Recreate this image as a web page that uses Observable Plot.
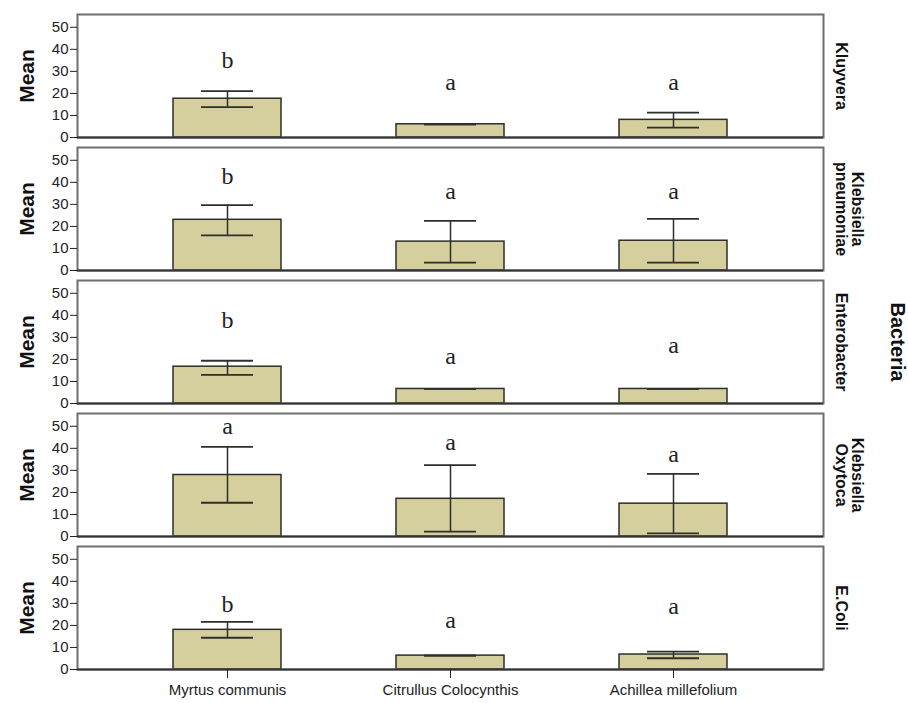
<!DOCTYPE html>
<html>
<head>
<meta charset="utf-8">
<script src="https://cdn.jsdelivr.net/npm/d3@7"></script>
<script src="https://cdn.jsdelivr.net/npm/@observablehq/plot@0.6"></script>
<style>
  html, body { margin: 0; padding: 0; background: #fff; }
  #chart svg { display: block; }
</style>
</head>
<body>
<div id="chart"></div>
<script>
// ---- data ----
const bacteria = ["Kluyvera", "Klebsiella pneumoniae", "Enterobacter", "Klebsiella Oxytoca", "E.Coli"];
const bacteriaLabels = ["Kluyvera", "Klebsiella\npneumoniae", "Enterobacter", "Klebsiella\nOxytoca", "E.Coli"];
const plants = ["Myrtus communis", "Citrullus Colocynthis", "Achillea millefolium"];
const yTicks = [0, 10, 20, 30, 40, 50];

// means per bacteria (order of plants)
const meanKluyvera = [17.6, 6.0, 8.0];
const meanPneumoniae = [23.0, 13.1, 13.5];
const meanEnterobacter = [16.7, 6.6, 6.6];
const meanOxytoca = [27.9, 17.1, 14.9];
const meanEColi = [18.0, 6.3, 6.8];

// error bar lows / highs
const lowKluyvera = [13.8, 6.0, 4.5];
const highKluyvera = [21.0, 6.0, 11.3];
const lowPneumoniae = [15.9, 3.6, 3.6];
const highPneumoniae = [29.7, 22.5, 23.4];
const lowEnterobacter = [13.0, 6.6, 6.6];
const highEnterobacter = [19.4, 6.6, 6.6];
const lowOxytoca = [15.3, 2.2, 1.4];
const highOxytoca = [40.7, 32.4, 28.4];
const lowEColi = [14.4, 6.3, 5.1];
const highEColi = [21.6, 6.3, 8.1];

// significance letters and their vertical positions
const letterKluyvera = ["b", "a", "a"];
const letterPneumoniae = ["b", "a", "a"];
const letterEnterobacter = ["b", "a", "a"];
const letterOxytoca = ["a", "a", "a"];
const letterEColi = ["b", "a", "a"];
const letterYKluyvera = [35, 25, 25];
const letterYPneumoniae = [42.8, 36, 36];
const letterYEnterobacter = [37.8, 21.2, 26.6];
const letterYOxytoca = [50, 42.8, 37.4];
const letterYEColi = [29.7, 22.5, 28.8];

// ---- build table ----
const means = [meanKluyvera, meanPneumoniae, meanEnterobacter, meanOxytoca, meanEColi];
const lows = [lowKluyvera, lowPneumoniae, lowEnterobacter, lowOxytoca, lowEColi];
const highs = [highKluyvera, highPneumoniae, highEnterobacter, highOxytoca, highEColi];
const letters = [letterKluyvera, letterPneumoniae, letterEnterobacter, letterOxytoca, letterEColi];
const letterYs = [letterYKluyvera, letterYPneumoniae, letterYEnterobacter, letterYOxytoca, letterYEColi];

const rows = [];
bacteria.forEach((b, i) => {
  plants.forEach((p, j) => {
    rows.push({
      bacteria: b, plant: p,
      mean: means[i][j], low: lows[i][j], high: highs[i][j],
      letter: letters[i][j], letterY: letterYs[i][j]
    });
  });
});
const labelRows = bacteria.map((b, i) => ({bacteria: b, label: bacteriaLabels[i]}));

const ink = "#2e2e2a";
const sans = "Liberation Sans, Arial, Helvetica, sans-serif";

const chart = Plot.plot({
  width: 908,
  height: 703,
  marginLeft: 77,
  marginRight: 85,
  marginTop: 12,
  marginBottom: 31,
  style: {fontFamily: sans, background: "#fff"},
  x: {type: "band", domain: plants, paddingInner: 0.517, paddingOuter: 0.427, label: null},
  y: {domain: [0, 55.8], nice: false, label: null},
  fy: {domain: bacteria, paddingInner: 0.0746, paddingOuter: 0, axis: null, label: null},
  marks: [
    Plot.barY(rows, {x: "plant", y: "mean", fy: "bacteria", fill: "#d4cf9c", stroke: ink, strokeWidth: 1.5}),
    Plot.ruleX(rows, {x: "plant", y1: "low", y2: "high", fy: "bacteria", stroke: ink, strokeWidth: 1.5}),
    Plot.tickY(rows, {x: "plant", y: "low", fy: "bacteria", stroke: ink, strokeWidth: 1.8, insetLeft: 28, insetRight: 28}),
    Plot.tickY(rows, {x: "plant", y: "high", fy: "bacteria", stroke: ink, strokeWidth: 1.8, insetLeft: 28, insetRight: 28}),
    Plot.text(rows, {x: "plant", y: "letterY", fy: "bacteria", text: "letter",
      fontFamily: "Liberation Serif, Times New Roman, serif", fontSize: 24, fill: "#222", lineAnchor: "middle"}),
    Plot.frame({stroke: "#6e6e6e", strokeWidth: 2}),
    Plot.ruleY([0], {stroke: "#333", strokeWidth: 2}),
    Plot.axisY({ticks: yTicks, tickSize: 7, tickPadding: 2, fontSize: 15, color: "#222", label: null}),
    Plot.axisX({tickSize: 9, tickPadding: 6, fontSize: 15, color: "#222", label: null}),
    Plot.text(labelRows, {fy: "bacteria", text: () => "Mean", frameAnchor: "left", dx: -50,
      rotate: -90, fontWeight: "bold", fontSize: 21, fill: "#111", lineAnchor: "middle", textAnchor: "middle"}),
    Plot.text(labelRows, {fy: "bacteria", text: "label", frameAnchor: "right", dx: 12,
      rotate: 90, fontWeight: "bold", fontSize: 16, fill: "#111", lineAnchor: "bottom", textAnchor: "middle", lineHeight: 1.0}),
    Plot.text(labelRows.filter(d => d.bacteria === "Enterobacter"), {fy: "bacteria", text: () => "Bacteria",
      frameAnchor: "right", dx: 74, rotate: 90, fontWeight: "bold", fontSize: 20, fill: "#111",
      lineAnchor: "middle", textAnchor: "middle"})
  ]
});
document.getElementById("chart").appendChild(chart);
</script>
</body>
</html>
